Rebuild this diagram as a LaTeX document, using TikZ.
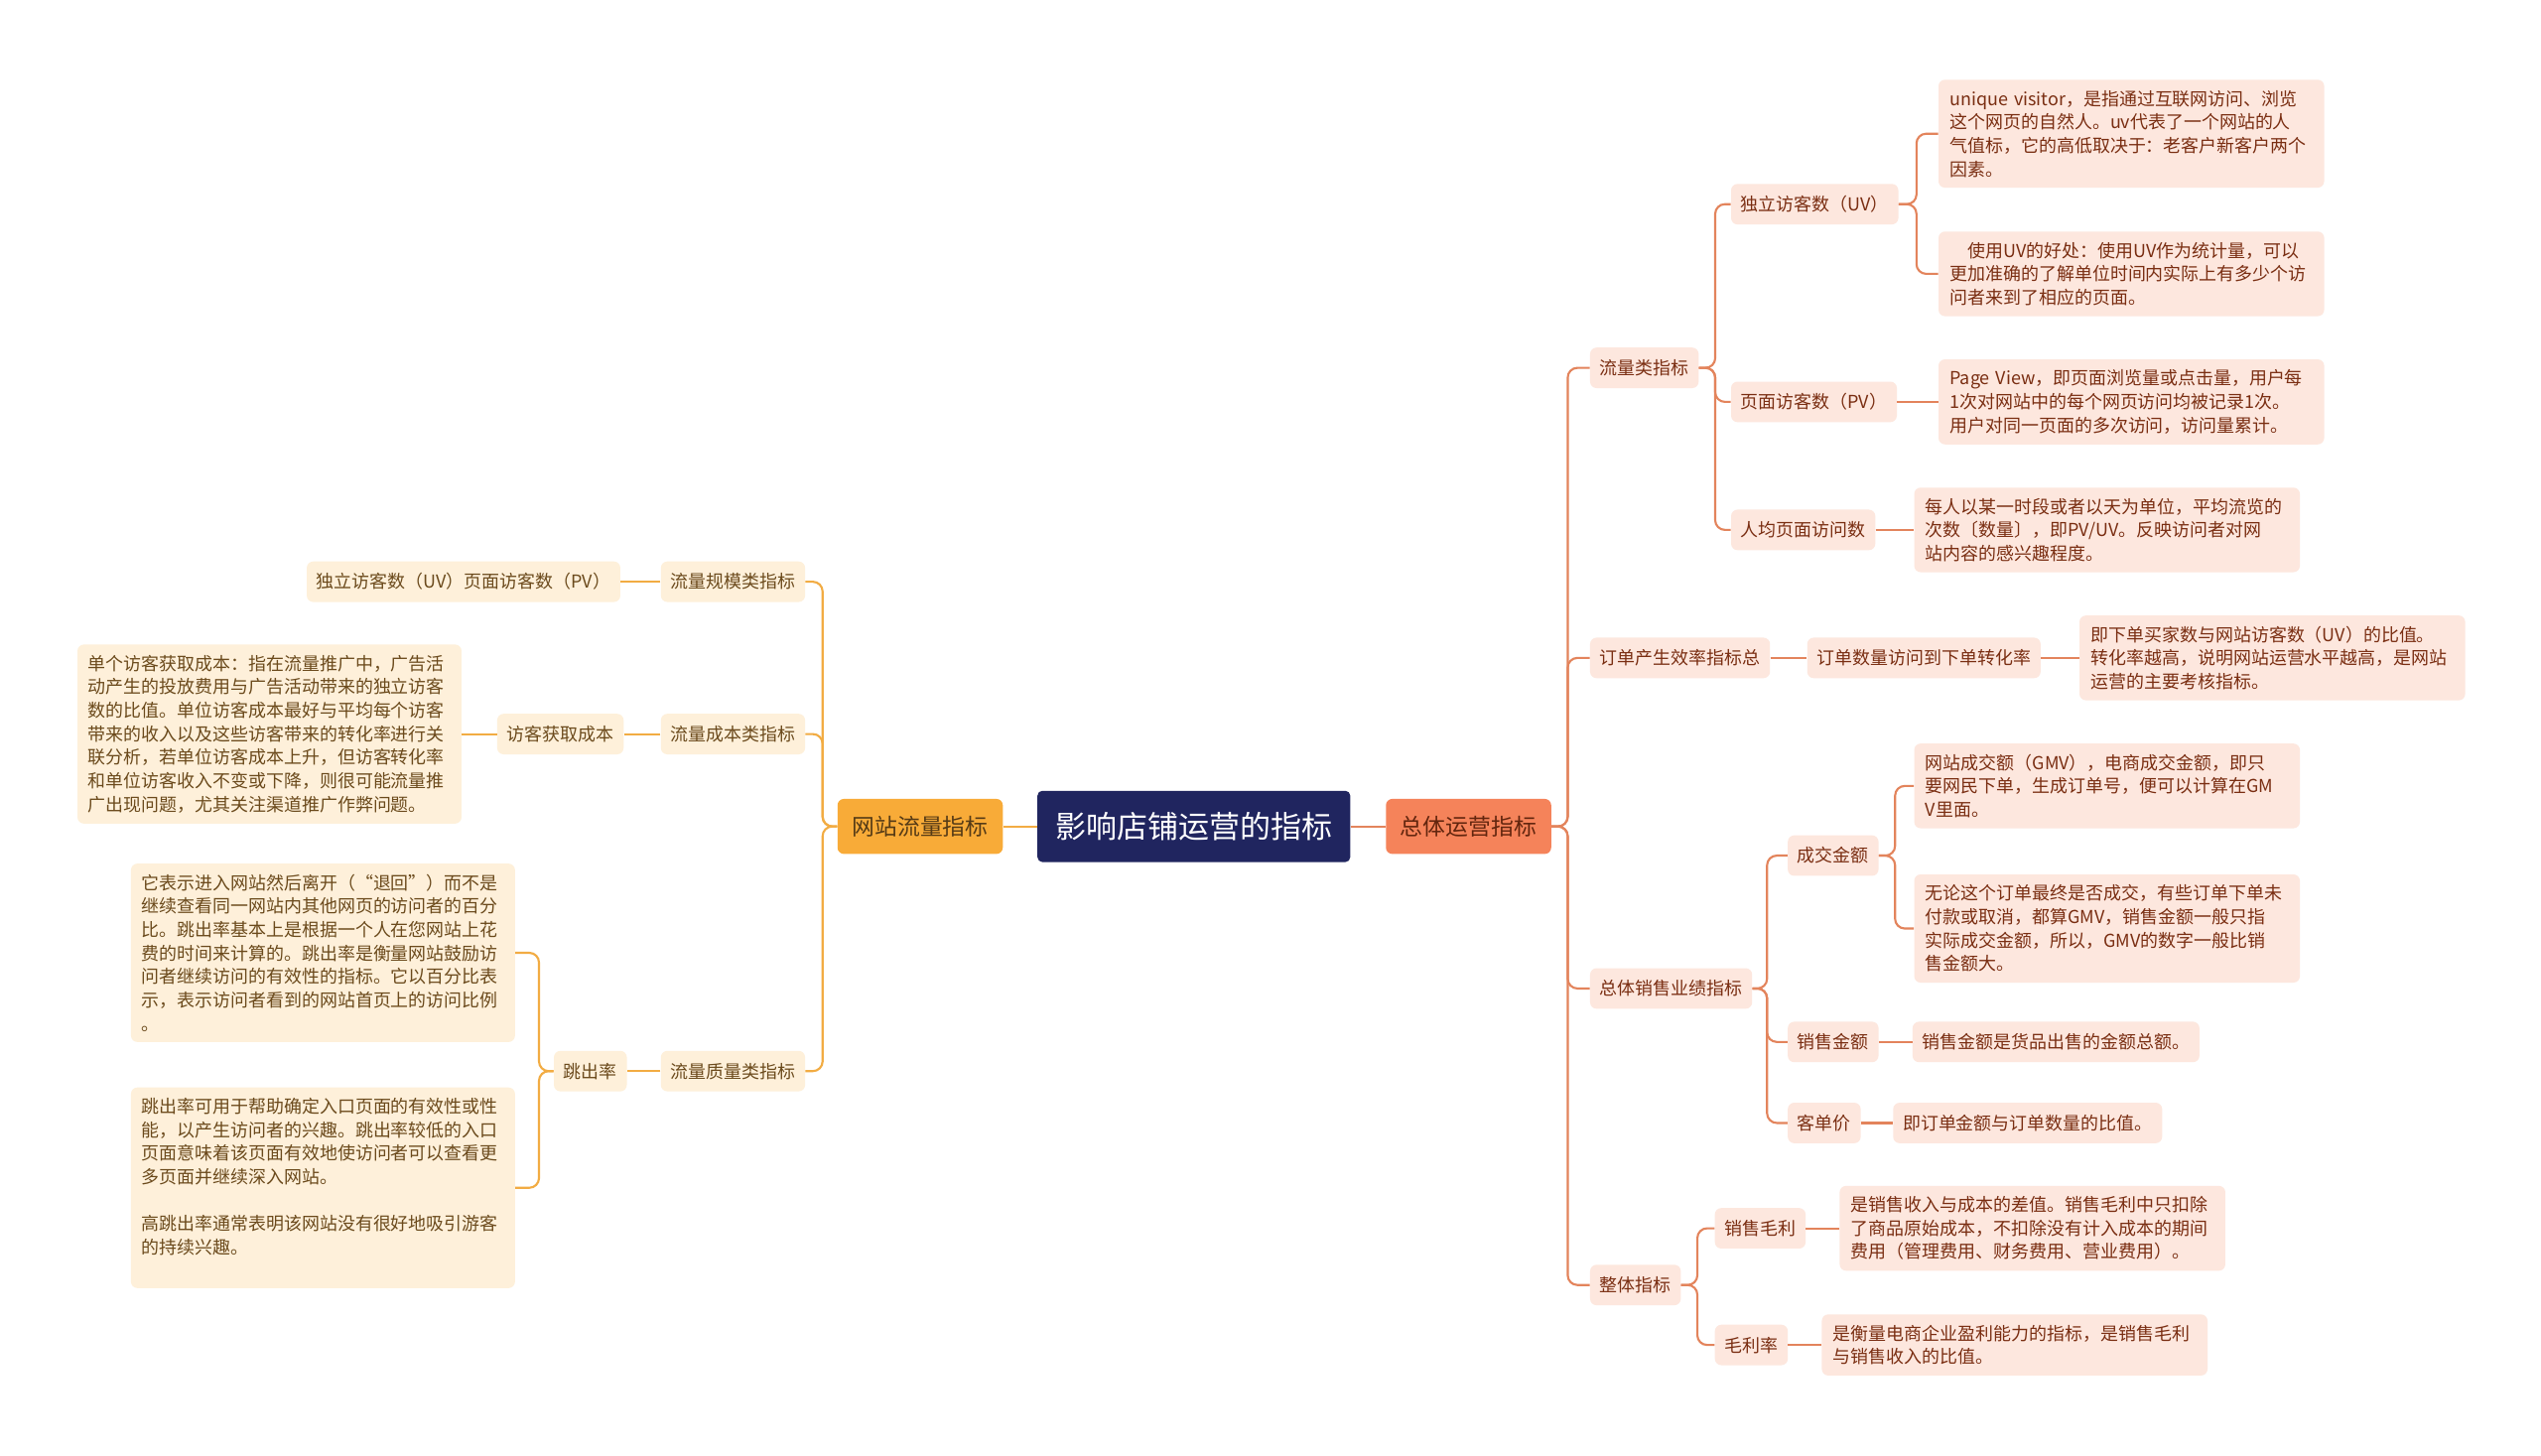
\documentclass[tikz,border=0pt]{standalone}
\usepackage{fontspec}
\setmainfont{Noto Sans CJK SC}
\usepackage{xcolor}
\usepackage{tikz}
\definecolor{rootfill}{HTML}{20255F}
\definecolor{lmainfill}{HTML}{F8AB38}
\definecolor{rmainfill}{HTML}{F5835A}
\definecolor{lfill}{HTML}{FEF0DA}
\definecolor{rfill}{HTML}{FDE7DE}
\definecolor{ltext}{HTML}{6B4A1C}
\definecolor{rtext}{HTML}{7A2E12}
\definecolor{lcol}{HTML}{F2AC43}
\definecolor{rcol}{HTML}{E3845C}
\tikzset{
  rootnode/.style={fill=rootfill,text=white,rounded corners=3pt,font=\fontsize{19}{22}\selectfont,minimum height=44pt,inner xsep=11pt},
  lmain/.style={fill=lmainfill,text=ltext!80!black,rounded corners=4pt,font=\fontsize{14}{17}\selectfont,minimum height=34pt,inner xsep=9pt},
  rmain/.style={fill=rmainfill,text=rtext!80!black,rounded corners=4pt,font=\fontsize{14}{17}\selectfont,minimum height=34pt,inner xsep=9pt},
  lnode/.style={fill=lfill,text=ltext,rounded corners=4pt,font=\fontsize{11}{14.5}\selectfont,minimum height=25pt,inner xsep=6pt},
  rnode/.style={fill=rfill,text=rtext,rounded corners=4pt,font=\fontsize{11}{14.5}\selectfont,minimum height=25pt,inner xsep=6pt},
  lnote/.style={lnode,align=left,text width=224pt,inner xsep=6.5pt,inner ysep=6.5pt},
  rnote/.style={rnode,align=left,text width=224pt,inner xsep=7pt,inner ysep=6.5pt},
  lline/.style={draw=lcol,line width=1.3pt,rounded corners=6pt},
  rline/.style={draw=rcol,line width=1.3pt,rounded corners=6pt}
}
\begin{document}
\begin{tikzpicture}[x=1pt,y=-1pt]
\fill[white](0,0)rectangle(1568,898);
\useasboundingbox(0,0)rectangle(1568,898);
\node[rootnode,anchor=west](root)at(640,510){影响店铺运营的指标};
\node[lmain,anchor=east](site)at(619,510){网站流量指标};
\node[rmain,anchor=west](ops)at(855,510){总体运营指标};
\draw[lline](root.west)--(site.east);
\draw[rline](root.east)--(ops.east-|ops.west);
\node[lnode,anchor=east](scale)at(497,359){流量规模类指标};
\node[lnode,anchor=east](cost)at(497,453){流量成本类指标};
\node[lnode,anchor=east](quality)at(497,661){流量质量类指标};
\node[lnode,anchor=east](uvpv)at(383,359){独立访客数（UV）页面访客数（PV）};
\node[lnode,anchor=east](acq)at(385,453){访客获取成本};
\node[lnote,anchor=east](acqnote)at(285,453){单个访客获取成本：指在流量推广中，广告活\\动产生的投放费用与广告活动带来的独立访客\\数的比值。单位访客成本最好与平均每个访客\\带来的收入以及这些访客带来的转化率进行关\\联分析，若单位访客成本上升，但访客转化率\\和单位访客收入不变或下降，则很可能流量推\\广出现问题，尤其关注渠道推广作弊问题。};
\node[lnode,anchor=east](bounce)at(387,661){跳出率};
\node[lnote,anchor=east](bouncea)at(318,588){它表示进入网站然后离开（“退回”）而不是\\继续查看同一网站内其他网页的访问者的百分\\比。跳出率基本上是根据一个人在您网站上花\\费的时间来计算的。跳出率是衡量网站鼓励访\\问者继续访问的有效性的指标。它以百分比表\\示，表示访问者看到的网站首页上的访问比例\\。};
\node[lnote,anchor=east](bounceb)at(318,733){跳出率可用于帮助确定入口页面的有效性或性\\能，以产生访问者的兴趣。跳出率较低的入口\\页面意味着该页面有效地使访问者可以查看更\\多页面并继续深入网站。\\[14.5pt]高跳出率通常表明该网站没有很好地吸引游客\\的持续兴趣。\\ \mbox{}};
\foreach \c in {scale,cost,quality}
  \draw[lline](site.west)--++(-9,0)|-(\c.east);
\draw[lline](scale.west)--(uvpv.east);
\draw[lline](cost.west)--(acq.east);
\draw[lline](acq.west)--(acqnote.east);
\draw[lline](quality.west)--(bounce.east);
\foreach \c in {bouncea,bounceb}
  \draw[lline](bounce.west)--++(-9,0)|-(\c.east);
\node[rnode,anchor=west](traffic)at(981,227){流量类指标};
\node[rnode,anchor=west](order)at(981,406){订单产生效率指标总};
\node[rnode,anchor=west](sales)at(981,610){总体销售业绩指标};
\node[rnode,anchor=west](whole)at(981,793){整体指标};
\foreach \c in {traffic,order,sales,whole}
  \draw[rline](ops.east)--++(10,0)|-(\c.west);
\node[rnode,anchor=west](uv)at(1068,126){独立访客数（UV）};
\node[rnode,anchor=west](pv)at(1068,248){页面访客数（PV）};
\node[rnode,anchor=west](avg)at(1068,327){人均页面访问数};
\foreach \c in {uv,pv,avg}
  \draw[rline](traffic.east)--++(10,0)|-(\c.west);
\node[rnote,anchor=west](uva)at(1196,82.5){unique visitor，是指通过互联网访问、浏览\\这个网页的自然人。uv代表了一个网站的人\\气值标，它的高低取决于：老客户新客户两个\\因素。};
\node[rnote,anchor=west](uvb)at(1196,169){\hspace*{1em}使用UV的好处：使用UV作为统计量，可以\\更加准确的了解单位时间内实际上有多少个访\\问者来到了相应的页面。};
\foreach \c in {uva,uvb}
  \draw[rline](uv.east)--++(11,0)|-(\c.west);
\node[rnote,anchor=west](pvnote)at(1196,248){Page View，即页面浏览量或点击量，用户每\\1次对网站中的每个网页访问均被记录1次。\\用户对同一页面的多次访问，访问量累计。};
\draw[rline](pv.east)--(pvnote.west);
\node[rnote,anchor=west](avgnote)at(1181,327){每人以某一时段或者以天为单位，平均流览的\\次数〔数量〕，即PV/UV。反映访问者对网\\站内容的感兴趣程度。};
\draw[rline](avg.east)--(avgnote.west);
\node[rnode,anchor=west](conv)at(1115,406){订单数量访问到下单转化率};
\node[rnote,anchor=west](convnote)at(1283,406){即下单买家数与网站访客数（UV）的比值。\\转化率越高，说明网站运营水平越高，是网站\\运营的主要考核指标。};
\draw[rline](order.east)--(conv.west);
\draw[rline](conv.east)--(convnote.west);
\node[rnode,anchor=west](gmv)at(1103,528){成交金额};
\node[rnode,anchor=west](amount)at(1103,643){销售金额};
\node[rnode,anchor=west](perorder)at(1103,693){客单价};
\foreach \c in {gmv,amount,perorder}
  \draw[rline](sales.east)--++(9,0)|-(\c.west);
\node[rnote,anchor=west](gmva)at(1181,485){网站成交额（GMV），电商成交金额，即只\\要网民下单，生成订单号，便可以计算在GM\\V里面。};
\node[rnote,anchor=west](gmvb)at(1181,573){无论这个订单最终是否成交，有些订单下单未\\付款或取消，都算GMV，销售金额一般只指\\实际成交金额，所以，GMV的数字一般比销\\售金额大。};
\foreach \c in {gmva,gmvb}
  \draw[rline](gmv.east)--++(10,0)|-(\c.west);
\node[rnode,anchor=west](amountnote)at(1180,643){销售金额是货品出售的金额总额。};
\draw[rline](amount.east)--(amountnote.west);
\node[rnode,anchor=west](pernote)at(1168,693){即订单金额与订单数量的比值。};
\draw[rline](perorder.east)--(pernote.west);
\node[rnode,anchor=west](margin)at(1058,758){销售毛利};
\node[rnode,anchor=west](rate)at(1058,830){毛利率};
\foreach \c in {margin,rate}
  \draw[rline](whole.east)--++(10,0)|-(\c.west);
\node[rnote,anchor=west](marginnote)at(1135,758){是销售收入与成本的差值。销售毛利中只扣除\\了商品原始成本，不扣除没有计入成本的期间\\费用（管理费用、财务费用、营业费用）。};
\draw[rline](margin.east)--(marginnote.west);
\node[rnote,anchor=west](ratenote)at(1124,830){是衡量电商企业盈利能力的指标，是销售毛利\\与销售收入的比值。};
\draw[rline](rate.east)--(ratenote.west);
\end{tikzpicture}
\end{document}
